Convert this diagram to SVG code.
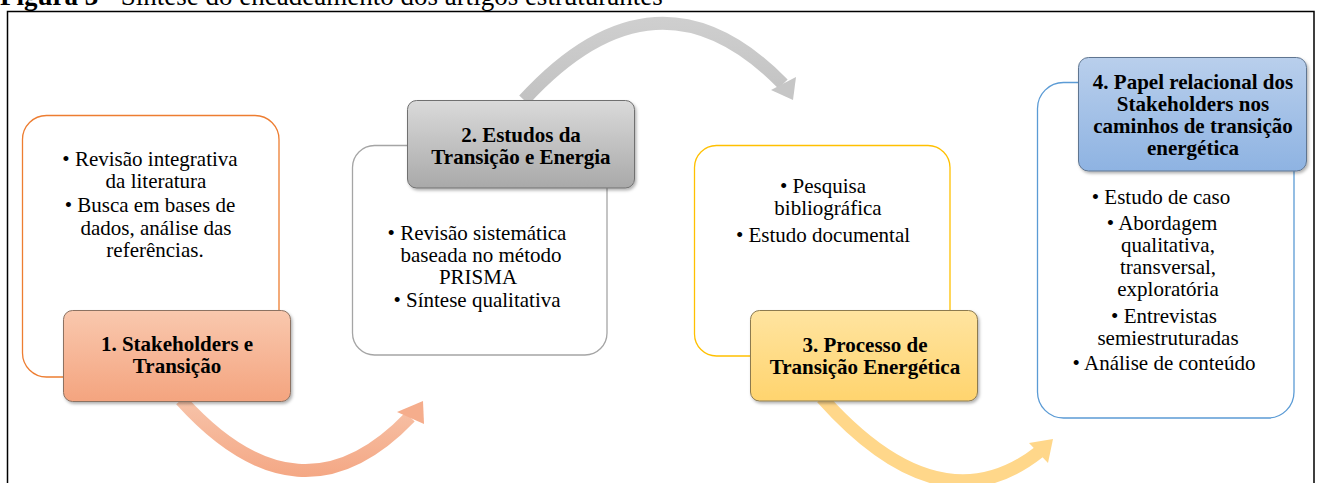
<svg xmlns="http://www.w3.org/2000/svg" width="1323" height="483" viewBox="0 0 1323 483">
<defs>
<linearGradient id="gOr" x1="0" y1="0" x2="0" y2="1"><stop offset="0" stop-color="#F9C8AE"/><stop offset="1" stop-color="#F4A47F"/></linearGradient>
<linearGradient id="gGr" x1="0" y1="0" x2="0" y2="1"><stop offset="0" stop-color="#DADADA"/><stop offset="1" stop-color="#A9A9A9"/></linearGradient>
<linearGradient id="gYe" x1="0" y1="0" x2="0" y2="1"><stop offset="0" stop-color="#FFE4A0"/><stop offset="1" stop-color="#FFD46E"/></linearGradient>
<linearGradient id="gBl" x1="0" y1="0" x2="0" y2="1"><stop offset="0" stop-color="#B9CFEC"/><stop offset="1" stop-color="#8EB3E2"/></linearGradient>
<linearGradient id="aOr" gradientUnits="userSpaceOnUse" x1="0" y1="400" x2="0" y2="478"><stop offset="0" stop-color="#F7C3A9"/><stop offset="1" stop-color="#F4A784"/></linearGradient>
<linearGradient id="aGr" gradientUnits="userSpaceOnUse" x1="0" y1="18" x2="0" y2="100"><stop offset="0" stop-color="#CFCFCF"/><stop offset="1" stop-color="#C2C2C2"/></linearGradient>
<filter id="sh" x="-10%" y="-10%" width="125%" height="130%"><feDropShadow dx="1.5" dy="2" stdDeviation="1.5" flood-color="#000" flood-opacity="0.3"/></filter>
</defs>
<style>
.cap{font-family:"Liberation Serif",serif;font-size:27px;fill:#000}
.bul{font-family:"Liberation Serif",serif;font-size:21px;fill:#000;text-anchor:middle}
.ttl{font-family:"Liberation Serif",serif;font-size:21px;font-weight:bold;fill:#000;text-anchor:middle}
.out{fill:#fff;stroke-width:1.3}
.hdr{stroke-width:1;filter:url(#sh)}
.arr{fill:none;stroke-width:13}
</style>
<rect width="1323" height="483" fill="#fff"/>
<text class="cap" x="0" y="5"><tspan font-weight="bold">Figura 3</tspan> - Síntese do encadeamento dos artigos estruturantes</text>
<path d="M7.5 483 V11.5 H1314 V483" fill="none" stroke="#000" stroke-width="1.5"/>

<g id="connectors">
<path class="arr" stroke="url(#aOr)" d="M181 400 Q300 532 410 417"/>
<polygon fill="#F5AD8C" points="423,401 397,412 424,424"/>
<path class="arr" stroke="url(#aGr)" d="M524 100 Q657 -45 783 84"/>
<polygon fill="#C6C6C6" points="793,100 771,90 796,77"/>
<path class="arr" stroke="#FFD78A" d="M822 398 Q940 530 1039 452"/>
<polygon fill="#FFD78A" points="1053,439 1029,443 1048,463"/>
</g>

<g id="node1">
<rect class="out" x="22.5" y="115.5" width="256.5" height="261.5" rx="24" stroke="#ED7D31"/>
<text class="bul"><tspan x="150" y="166">• Revisão integrativa</tspan><tspan x="156" y="188">da literatura</tspan><tspan x="150" y="212">• Busca em bases de</tspan><tspan x="156" y="235">dados, análise das</tspan><tspan x="155" y="257">referências.</tspan></text>
<rect class="hdr" x="63.5" y="310.5" width="227" height="91" rx="9" fill="url(#gOr)" stroke="#8C7262"/>
<text class="ttl"><tspan x="177" y="351">1. Stakeholders e</tspan><tspan x="177" y="373">Transição</tspan></text>
</g>

<g id="node2">
<rect class="out" x="352.5" y="145.5" width="254.5" height="209.5" rx="22" stroke="#A5A5A5"/>
<text class="bul"><tspan x="477" y="240">• Revisão sistemática</tspan><tspan x="481" y="262">baseada no método</tspan><tspan x="478" y="284">PRISMA</tspan><tspan x="477" y="307">• Síntese qualitativa</tspan></text>
<rect class="hdr" x="407.5" y="100.5" width="227" height="87.5" rx="9" fill="url(#gGr)" stroke="#707070"/>
<text class="ttl"><tspan x="521" y="142">2. Estudos da</tspan><tspan x="521" y="164">Transição e Energia</tspan></text>
</g>

<g id="node3">
<rect class="out" x="694.5" y="145.5" width="255.5" height="210.5" rx="22" stroke="#FFC000"/>
<text class="bul"><tspan x="823" y="193">• Pesquisa</tspan><tspan x="828" y="215">bibliográfica</tspan><tspan x="823" y="242">• Estudo documental</tspan></text>
<rect class="hdr" x="750.5" y="310.5" width="227" height="90.5" rx="9" fill="url(#gYe)" stroke="#8C7A50"/>
<text class="ttl"><tspan x="865" y="352">3. Processo de</tspan><tspan x="865" y="374">Transição Energética</tspan></text>
</g>

<g id="node4">
<rect class="out" x="1037.5" y="82.5" width="256.5" height="335.5" rx="26" stroke="#5B9BD5"/>
<text class="bul"><tspan x="1161" y="204">• Estudo de caso</tspan><tspan x="1162" y="230">• Abordagem</tspan><tspan x="1168" y="252">qualitativa,</tspan><tspan x="1168" y="274">transversal,</tspan><tspan x="1168" y="296">exploratória</tspan><tspan x="1164" y="323">• Entrevistas</tspan><tspan x="1168" y="345">semiestruturadas</tspan><tspan x="1164" y="370">• Análise de conteúdo</tspan></text>
<rect class="hdr" x="1078.5" y="57.5" width="228" height="113.5" rx="10" fill="url(#gBl)" stroke="#5F7590"/>
<text class="ttl"><tspan x="1193" y="89">4. Papel relacional dos</tspan><tspan x="1193" y="111">Stakeholders nos</tspan><tspan x="1193" y="133">caminhos de transição</tspan><tspan x="1193" y="155">energética</tspan></text>
</g>
</svg>
